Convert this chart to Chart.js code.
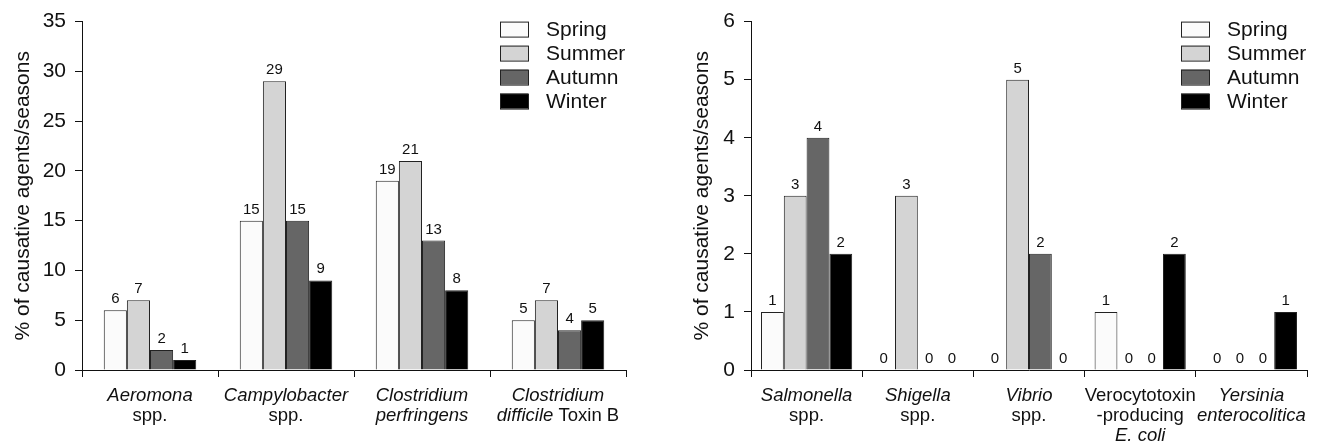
<!DOCTYPE html>
<html>
<head>
<meta charset="utf-8">
<script src="https://cdn.jsdelivr.net/npm/chart.js@4.4.1/dist/chart.umd.min.js"></script>
<style>
  html, body { margin: 0; padding: 0; background: #fff; }
  #wrap { position: relative; width: 1318px; height: 443px; }
  #left { position: absolute; left: 0; top: 0; }
  #right { position: absolute; left: 660px; top: 0; }
</style>
</head>
<body>
<div id="wrap">
  <canvas id="left" width="660" height="443"></canvas>
  <canvas id="right" width="658" height="443"></canvas>
</div>
<script>
const FONT = '"Liberation Sans", Arial, Helvetica, sans-serif';
const INK = '#111111';

const seasons = ['Spring', 'Summer', 'Autumn', 'Winter'];
const seasonColors = ['#fbfbfb', '#d4d4d4', '#666666', '#000000'];

// left panel; text between underscores is italic
const leftLabels = [
  ['_Aeromona_', 'spp.'],
  ['_Campylobacter_', 'spp.'],
  ['_Clostridium_', '_perfringens_'],
  ['_Clostridium_', '_difficile_ Toxin B']
];
const leftSpring = [6, 15, 19, 5];
const leftSummer = [7, 29, 21, 7];
const leftAutumn = [2, 15, 13, 4];
const leftWinter = [1, 9, 8, 5];
const leftYMax = 35;
const leftYStep = 5;

// right panel
const rightLabels = [
  ['_Salmonella_', 'spp.'],
  ['_Shigella_', 'spp.'],
  ['_Vibrio_', 'spp.'],
  ['Verocytotoxin', '-producing', '_E. coli_'],
  ['_Yersinia_', '_enterocolitica_']
];
const rightSpring = [1, 0, 0, 1, 0];
const rightSummer = [3, 3, 5, 0, 0];
const rightAutumn = [4, 0, 2, 0, 0];
const rightWinter = [2, 0, 0, 2, 1];
const rightYMax = 6;
const rightYStep = 1;

const yTitle = '% of causative agents/seasons';

// numbers above every bar (zeros too)
const valueLabels = {
  id: 'valueLabels',
  afterDatasetsDraw(chart) {
    const ctx = chart.ctx;
    ctx.save();
    ctx.font = '15px ' + FONT;
    ctx.fillStyle = INK;
    ctx.textAlign = 'center';
    ctx.textBaseline = 'alphabetic';
    chart.data.datasets.forEach((ds, i) => {
      chart.getDatasetMeta(i).data.forEach((bar, j) => {
        ctx.fillText(String(ds.data[j]), bar.x, bar.y - 7);
      });
    });
    ctx.restore();
  }
};

// category names with mixed italic / upright parts
const categoryLabels = {
  id: 'categoryLabels',
  afterDraw(chart) {
    const xs = chart.scales.x;
    const ctx = chart.ctx;
    const fontFor = it => (it ? 'italic ' : '') + '18.5px ' + FONT;
    ctx.save();
    ctx.fillStyle = INK;
    ctx.textAlign = 'left';
    ctx.textBaseline = 'alphabetic';
    chart.data.labels.forEach((lines, i) => {
      const cx = xs.getPixelForValue(i);
      lines.forEach((line, k) => {
        const parts = line.split('_')
          .map((t, n) => ({ t: t, it: n % 2 === 1 }))
          .filter(p => p.t.length);
        let w = 0;
        parts.forEach(p => {
          ctx.font = fontFor(p.it);
          p.w = ctx.measureText(p.t).width;
          w += p.w;
        });
        let px = cx - w / 2;
        const py = xs.top + 31 + k * 20;
        parts.forEach(p => {
          ctx.font = fontFor(p.it);
          ctx.fillText(p.t, px, py);
          px += p.w;
        });
      });
    });
    ctx.restore();
  }
};

// boxed legend in the upper right of the plot
const boxLegend = {
  id: 'boxLegend',
  afterDraw(chart) {
    const ctx = chart.ctx;
    const a = chart.chartArea;
    const x0 = a.right - 126;
    ctx.save();
    chart.data.datasets.forEach((ds, i) => {
      const y = a.top + i * 24;
      ctx.fillStyle = ds.backgroundColor;
      ctx.fillRect(x0, y, 28, 15);
      ctx.strokeStyle = '#222';
      ctx.lineWidth = 1;
      ctx.strokeRect(x0 + 0.5, y + 0.5, 28, 15);
      ctx.fillStyle = INK;
      ctx.font = '21px ' + FONT;
      ctx.textAlign = 'left';
      ctx.textBaseline = 'middle';
      ctx.fillText(ds.label, x0 + 46, y + 9);
    });
    ctx.restore();
  }
};

function makeChart(id, labels, series, yMax, yStep, o) {
  return new Chart(document.getElementById(id), {
    type: 'bar',
    data: {
      labels: labels,
      datasets: seasons.map((s, i) => ({
        label: s,
        data: series[i],
        backgroundColor: seasonColors[i],
        borderColor: '#222',
        borderWidth: 1,
        categoryPercentage: o.cat,
        barPercentage: 1
      }))
    },
    options: {
      responsive: false,
      animation: false,
      layout: { padding: { top: 20, right: o.padRight, left: 0, bottom: 0 } },
      plugins: { legend: { display: false }, tooltip: { enabled: false } },
      scales: {
        x: {
          grid: { offset: true, drawOnChartArea: false, color: INK, tickLength: 7 },
          border: { color: INK, width: 1 },
          ticks: { display: false },
          afterFit: s => { s.height = 73; }
        },
        y: {
          min: 0,
          max: yMax,
          ticks: { stepSize: yStep, padding: 9, color: INK, font: { family: FONT, size: 21 } },
          grid: { drawOnChartArea: false, tickLength: 7, color: INK },
          border: { color: INK, width: 1 },
          title: {
            display: true,
            text: yTitle,
            color: INK,
            font: { family: FONT, size: 21 },
            padding: { top: o.titlePad, bottom: 0 }
          },
          afterFit: s => { s.width = o.yWidth; }
        }
      }
    },
    plugins: [valueLabels, categoryLabels, boxLegend]
  });
}

makeChart('left', leftLabels, [leftSpring, leftSummer, leftAutumn, leftWinter],
  leftYMax, leftYStep, { cat: 0.68, padRight: 34, yWidth: 82, titlePad: 11 });
makeChart('right', rightLabels, [rightSpring, rightSummer, rightAutumn, rightWinter],
  rightYMax, rightYStep, { cat: 0.82, padRight: 11, yWidth: 91, titlePad: 30 });
</script>
</body>
</html>
